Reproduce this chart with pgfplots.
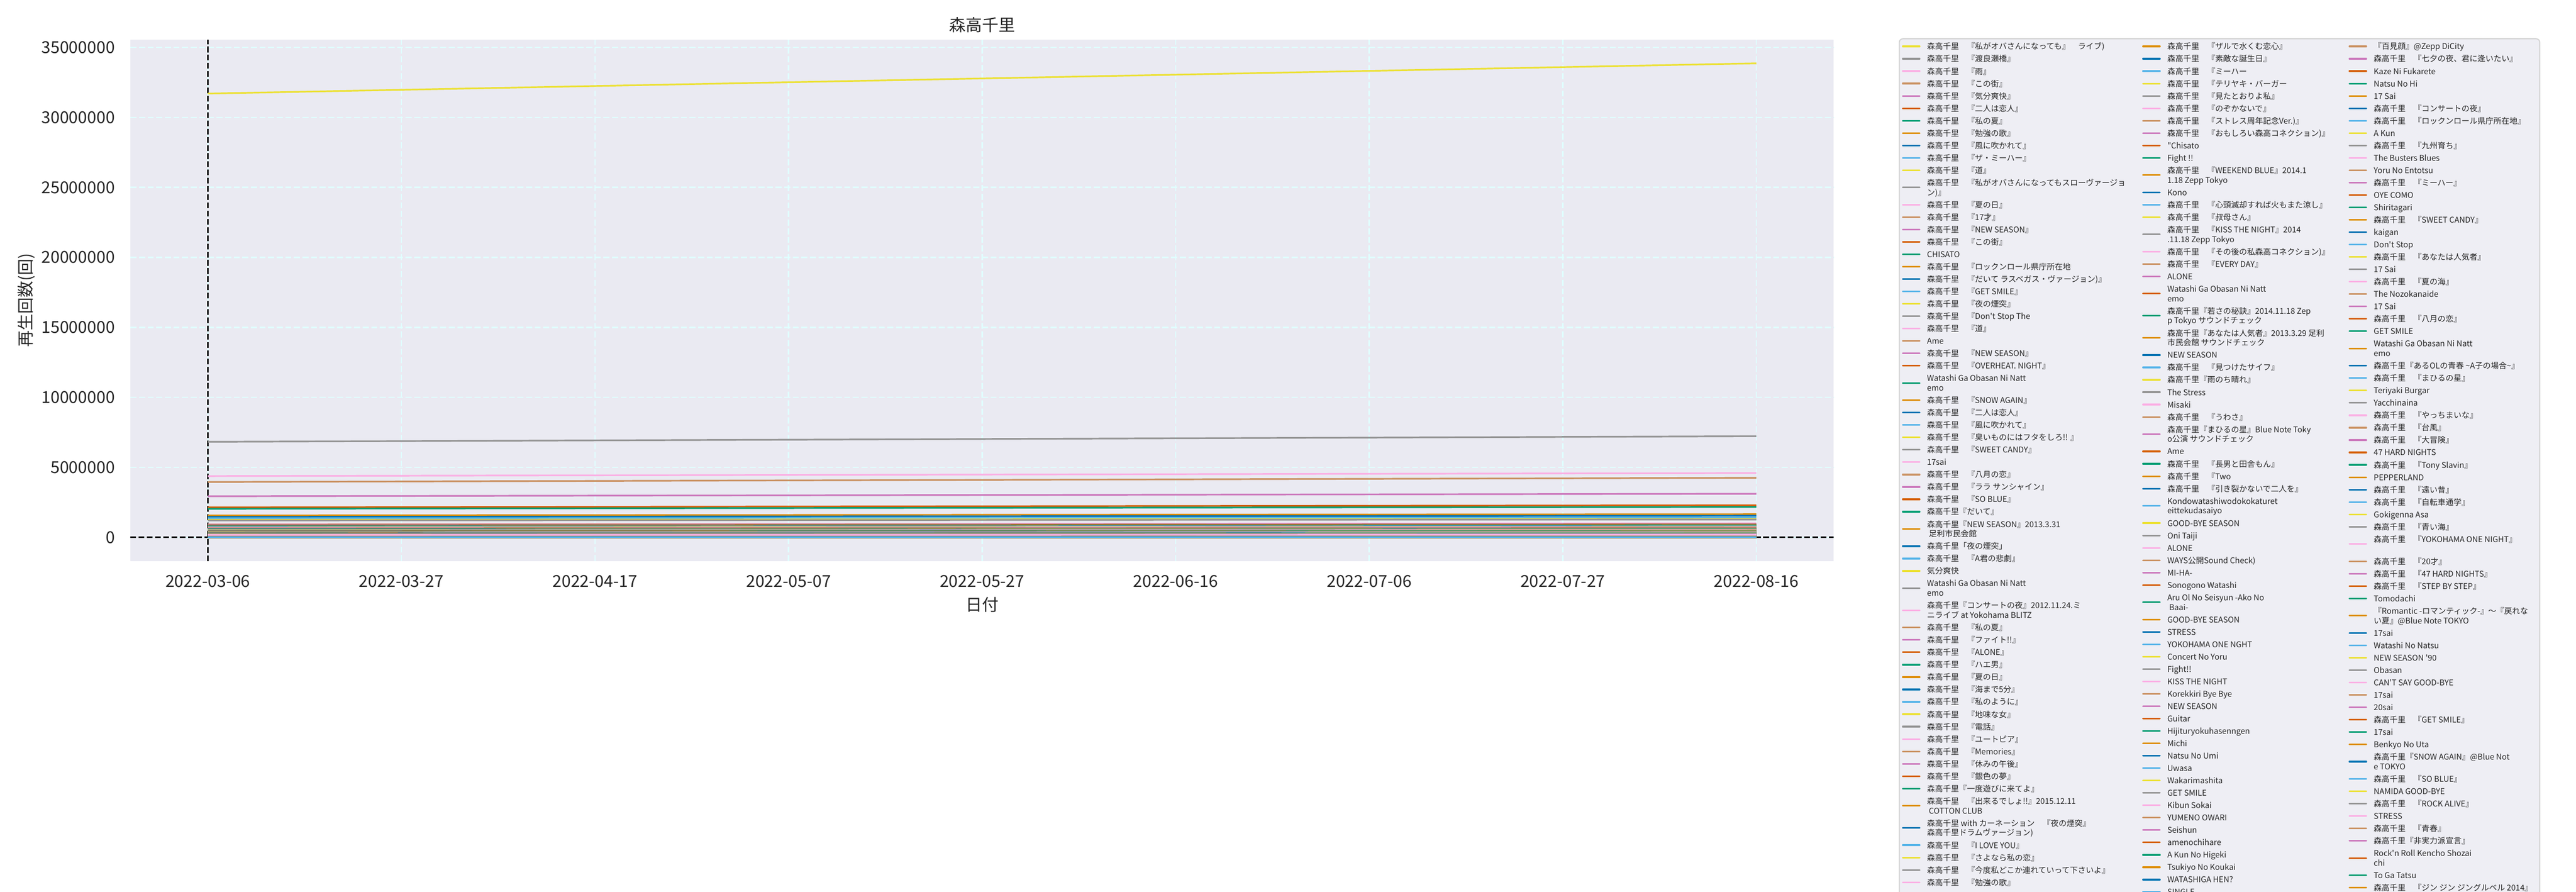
\documentclass[border=0pt]{standalone}
\usepackage{pgfplots}
\pgfplotsset{compat=1.18}
\usepackage{fontspec}
\setmainfont{Noto Sans CJK JP}[Ligatures=TeXOff]
\definecolor{cbBlue}{HTML}{0173B2}
\definecolor{cbOrange}{HTML}{DE8F05}
\definecolor{cbGreen}{HTML}{029E73}
\definecolor{cbVerm}{HTML}{D55E00}
\definecolor{cbPurple}{HTML}{CC78BC}
\definecolor{cbTan}{HTML}{CA9161}
\definecolor{cbPink}{HTML}{FBAFE4}
\definecolor{cbGray}{HTML}{949494}
\definecolor{cbYellow}{HTML}{ECE133}
\definecolor{cbLight}{HTML}{56B4E9}
\definecolor{axbg}{HTML}{EAEAF2}
\definecolor{gridc}{HTML}{E0FFFF}
\definecolor{txt}{HTML}{262626}
\definecolor{legbg}{HTML}{EEEEF4}
\definecolor{legedge}{HTML}{D3D3D3}
\newcommand\two[2]{\vtop{\hbox{#1}\hbox{#2}}}
\pgfplotsset{
  common/.style={at={(75.84pt,192.24pt)}, anchor=south west, scale only axis,
    width=990.24pt, height=303.12pt, xmin=-8, xmax=168, ymin=-1693000, ymax=35553000},
  legcol/.style={common, hide axis,
    every axis plot/.append style={line width=0.96pt},
    legend cell align=left,
    legend image code/.code={\draw[##1,line width=0.96pt,line cap=round] (0.48pt,0pt) -- (10.32pt,0pt);},
    legend style={at={(#1,0.9964)}, anchor=north west, draw=none, fill=none,
      inner sep=0pt, outer sep=0pt, row sep=1.56pt, column sep=3.84pt,
      font=\fontsize{4.64pt}{5.64pt}\selectfont, text=txt,
      nodes={inner sep=0pt, text height=4.6pt, text depth=1.04pt}}},
}
\begin{document}
\begin{tikzpicture}
\useasboundingbox (0pt,0pt) rectangle (1497.6pt,518.4pt);
\filldraw[fill=legbg, draw=legedge, line width=0.64pt, rounded corners=2pt] (1104.2pt,495.84pt) rectangle (1476.48pt,-60pt);

% ---------- main axis: background, grid, reference lines ----------
\begin{axis}[common,
  axis background/.style={fill=axbg},
  axis line style={draw=none},
  major tick length=0pt,
  xtick={0,20,40,60,80,100,120,140,160},
  xticklabels={2022-03-06,2022-03-27,2022-04-17,2022-05-07,2022-05-27,2022-06-16,2022-07-06,2022-07-27,2022-08-16},
  ytick={0,5000000,10000000,15000000,20000000,25000000,30000000,35000000},
  scaled y ticks=false,
  yticklabel style={/pgf/number format/fixed, /pgf/number format/1000 sep={}, /pgf/number format/assume math mode=true, anchor=east, inner sep=0pt, xshift=-8.88pt},
  xticklabel style={anchor=north, inner sep=0pt, yshift=-7.92pt},
  tick label style={font=\fontsize{9.6pt}{11.5pt}\selectfont, text=txt},
  grid=major,
  major grid style={draw=gridc, line width=0.75pt, dash pattern=on 3.5pt off 1.5pt},
  every axis title shift=0pt,
  title={森高千里},
  title style={at={(0.5,1.0285)}, anchor=center, font=\fontsize{9.6pt}{11.5pt}\selectfont, text=txt},
  xlabel={日付},
  xlabel style={at={(axis description cs:0.5,-0.0831)}, anchor=center, font=\fontsize{9.6pt}{11.5pt}\selectfont, text=txt},
  ylabel={再生回数(回)},
  ylabel style={at={(axis description cs:-0.06108,0.5)}, anchor=center, font=\fontsize{9.6pt}{11.5pt}\selectfont, text=txt},
]
\addplot[black, line width=0.9pt, dash pattern=on 3.33pt off 1.44pt, forget plot] coordinates {(-8,0) (168,0)};
\addplot[black, line width=0.9pt, dash pattern=on 3.33pt off 1.44pt, forget plot] coordinates {(0,-1693000) (0,35553000)};
\end{axis}

% ---------- legend column 3 ----------
\begin{axis}[legcol=1.30223,
  cycle list={{cbTan},{cbPurple},{cbVerm},{cbGreen},{cbOrange},{cbBlue},{cbLight},{cbYellow},{cbGray},{cbPink}}]
\addplot coordinates {(0,16800) (160,17800)}; \addlegendentry{『百見顔』@Zepp DiCity}
\addplot coordinates {(0,16300) (160,17300)}; \addlegendentry{森高千里　『七夕の夜、君に逢いたい』}
\addplot coordinates {(0,15700) (160,16600)}; \addlegendentry{Kaze Ni Fukarete}
\addplot coordinates {(0,15200) (160,16100)}; \addlegendentry{Natsu No Hi}
\addplot coordinates {(0,14700) (160,15600)}; \addlegendentry{17 Sai}
\addplot coordinates {(0,14200) (160,15100)}; \addlegendentry{森高千里　『コンサートの夜』}
\addplot coordinates {(0,13800) (160,14600)}; \addlegendentry{森高千里　『ロックンロール県庁所在地』}
\addplot coordinates {(0,13300) (160,14100)}; \addlegendentry{A Kun}
\addplot coordinates {(0,12900) (160,13700)}; \addlegendentry{森高千里　『九州育ち』}
\addplot coordinates {(0,12500) (160,13300)}; \addlegendentry{The Busters Blues}
\addplot coordinates {(0,12100) (160,12800)}; \addlegendentry{Yoru No Entotsu}
\addplot coordinates {(0,11700) (160,12400)}; \addlegendentry{森高千里　『ミーハー』}
\addplot coordinates {(0,11300) (160,12000)}; \addlegendentry{OYE COMO}
\addplot coordinates {(0,10900) (160,11600)}; \addlegendentry{Shiritagari}
\addplot coordinates {(0,10600) (160,11200)}; \addlegendentry{森高千里　『SWEET CANDY』}
\addplot coordinates {(0,10200) (160,10800)}; \addlegendentry{kaigan}
\addplot coordinates {(0,9900) (160,10500)}; \addlegendentry{Don't Stop}
\addplot coordinates {(0,9500) (160,10100)}; \addlegendentry{森高千里　『あなたは人気者』}
\addplot coordinates {(0,9200) (160,9800)}; \addlegendentry{17 Sai}
\addplot coordinates {(0,8900) (160,9400)}; \addlegendentry{森高千里　『夏の海』}
\addplot coordinates {(0,8600) (160,9100)}; \addlegendentry{The Nozokanaide}
\addplot coordinates {(0,8300) (160,8800)}; \addlegendentry{17 Sai}
\addplot coordinates {(0,8100) (160,8600)}; \addlegendentry{森高千里　『八月の恋』}
\addplot coordinates {(0,7800) (160,8300)}; \addlegendentry{GET SMILE}
\addplot coordinates {(0,7500) (160,8000)}; \addlegendentry[text depth=6.68pt]{\two{Watashi Ga Obasan Ni Natt}{emo}}
\addplot coordinates {(0,7300) (160,7700)}; \addlegendentry{森高千里『あるOLの青春 \textasciitilde A子の場合\textasciitilde』}
\addplot coordinates {(0,7100) (160,7500)}; \addlegendentry{森高千里　『まひるの星』}
\addplot coordinates {(0,6800) (160,7200)}; \addlegendentry{Teriyaki Burgar}
\addplot coordinates {(0,6600) (160,7000)}; \addlegendentry{Yacchinaina}
\addplot coordinates {(0,6400) (160,6800)}; \addlegendentry{森高千里　『やっちまいな』}
\addplot coordinates {(0,6200) (160,6600)}; \addlegendentry{森高千里　『台風』}
\addplot coordinates {(0,6000) (160,6400)}; \addlegendentry{森高千里　『大冒険』}
\addplot coordinates {(0,5800) (160,6100)}; \addlegendentry{47 HARD NIGHTS}
\addplot coordinates {(0,5600) (160,5900)}; \addlegendentry{森高千里　『Tony Slavin』}
\addplot coordinates {(0,5400) (160,5700)}; \addlegendentry{PEPPERLAND}
\addplot coordinates {(0,5200) (160,5500)}; \addlegendentry{森高千里　『遠い昔』}
\addplot coordinates {(0,5000) (160,5300)}; \addlegendentry{森高千里　『自転車通学』}
\addplot coordinates {(0,4900) (160,5200)}; \addlegendentry{Gokigenna Asa}
\addplot coordinates {(0,4700) (160,5000)}; \addlegendentry{森高千里　『青い海』}
\addplot coordinates {(0,4600) (160,4900)}; \addlegendentry[text depth=6.68pt]{\two{森高千里　『YOKOHAMA ONE NIGHT』}{}}
\addplot coordinates {(0,4400) (160,4700)}; \addlegendentry{森高千里　『20才』}
\addplot coordinates {(0,4300) (160,4600)}; \addlegendentry{森高千里　『47 HARD NIGHTS』}
\addplot coordinates {(0,4100) (160,4300)}; \addlegendentry{森高千里　『STEP BY STEP』}
\addplot coordinates {(0,4000) (160,4200)}; \addlegendentry{Tomodachi}
\addplot coordinates {(0,3900) (160,4100)}; \addlegendentry[text depth=6.68pt]{\two{『Romantic -ロマンティック-』～『戻れな}{い夏』@Blue Note TOKYO}}
\addplot coordinates {(0,3700) (160,3900)}; \addlegendentry{17sai}
\addplot coordinates {(0,3600) (160,3800)}; \addlegendentry{Watashi No Natsu}
\addplot coordinates {(0,3500) (160,3700)}; \addlegendentry{NEW SEASON '90}
\addplot coordinates {(0,3400) (160,3600)}; \addlegendentry{Obasan}
\addplot coordinates {(0,3300) (160,3500)}; \addlegendentry{CAN'T SAY GOOD-BYE}
\addplot coordinates {(0,3200) (160,3400)}; \addlegendentry{17sai}
\addplot coordinates {(0,3100) (160,3300)}; \addlegendentry{20sai}
\addplot coordinates {(0,3000) (160,3200)}; \addlegendentry{森高千里　『GET SMILE』}
\addplot coordinates {(0,2900) (160,3100)}; \addlegendentry{17sai}
\addplot coordinates {(0,2800) (160,3000)}; \addlegendentry{Benkyo No Uta}
\addplot coordinates {(0,2700) (160,2900)}; \addlegendentry[text depth=6.68pt]{\two{森高千里『SNOW AGAIN』@Blue Not}{e TOKYO}}
\addplot coordinates {(0,2600) (160,2800)}; \addlegendentry{森高千里　『SO BLUE』}
\addplot coordinates {(0,2500) (160,2700)}; \addlegendentry{NAMIDA GOOD-BYE}
\addplot coordinates {(0,2400) (160,2500)}; \addlegendentry{森高千里　『ROCK ALIVE』}
\addplot coordinates {(0,2400) (160,2500)}; \addlegendentry{STRESS}
\addplot coordinates {(0,2300) (160,2400)}; \addlegendentry{森高千里　『青春』}
\addplot coordinates {(0,2200) (160,2300)}; \addlegendentry{森高千里『非実力派宣言』}
\addplot coordinates {(0,2100) (160,2200)}; \addlegendentry[text depth=6.68pt]{\two{Rock'n Roll Kencho Shozai}{chi}}
\addplot coordinates {(0,2000) (160,2100)}; \addlegendentry{To Ga Tatsu}
\addplot coordinates {(0,2000) (160,2100)}; \addlegendentry{森高千里　『ジン ジン ジングルベル 2014』}
\end{axis}

% ---------- legend column 2 ----------
\begin{axis}[legcol=1.18105,
  cycle list={{cbOrange},{cbBlue},{cbLight},{cbYellow},{cbGray},{cbPink},{cbTan},{cbPurple},{cbVerm},{cbGreen}}]
\addplot coordinates {(0,151900) (160,161000)}; \addlegendentry{森高千里　『ザルで水くむ恋心』}
\addplot coordinates {(0,146900) (160,155700)}; \addlegendentry{森高千里　『素敵な誕生日』}
\addplot coordinates {(0,142100) (160,150600)}; \addlegendentry{森高千里　『ミーハー}
\addplot coordinates {(0,137500) (160,145800)}; \addlegendentry{森高千里　『テリヤキ・バーガー}
\addplot coordinates {(0,133000) (160,141000)}; \addlegendentry{森高千里　『見たとおりよ私』}
\addplot coordinates {(0,128600) (160,136300)}; \addlegendentry{森高千里　『のぞかないで』}
\addplot coordinates {(0,124400) (160,131900)}; \addlegendentry{森高千里　『ストレス周年記念Ver.)』}
\addplot coordinates {(0,120300) (160,127500)}; \addlegendentry{森高千里　『おもしろい森高コネクション)』}
\addplot coordinates {(0,116300) (160,123300)}; \addlegendentry{"Chisato}
\addplot coordinates {(0,112500) (160,119300)}; \addlegendentry{Fight !!}
\addplot coordinates {(0,108800) (160,115300)}; \addlegendentry[text depth=6.68pt]{\two{森高千里　『WEEKEND BLUE』2014.1}{1.18 Zepp Tokyo}}
\addplot coordinates {(0,105300) (160,111600)}; \addlegendentry{Kono}
\addplot coordinates {(0,101800) (160,107900)}; \addlegendentry{森高千里　『心頭滅却すれば火もまた涼し』}
\addplot coordinates {(0,98500) (160,104400)}; \addlegendentry{森高千里　『叔母さん』}
\addplot coordinates {(0,95300) (160,101000)}; \addlegendentry[text depth=6.68pt]{\two{森高千里　『KISS THE NIGHT』2014}{.11.18 Zepp Tokyo}}
\addplot coordinates {(0,92100) (160,97600)}; \addlegendentry{森高千里　『その後の私森高コネクション)』}
\addplot coordinates {(0,89100) (160,94400)}; \addlegendentry{森高千里　『EVERY DAY』}
\addplot coordinates {(0,86200) (160,91400)}; \addlegendentry{ALONE}
\addplot coordinates {(0,83400) (160,88400)}; \addlegendentry[text depth=6.68pt]{\two{Watashi Ga Obasan Ni Natt}{emo}}
\addplot coordinates {(0,80600) (160,85400)}; \addlegendentry[text depth=6.68pt]{\two{森高千里『若さの秘訣』2014.11.18 Zep}{p Tokyo サウンドチェック}}
\addplot coordinates {(0,78000) (160,82700)}; \addlegendentry[text depth=6.68pt]{\two{森高千里『あなたは人気者』2013.3.29 足利}{市民会館 サウンドチェック}}
\addplot coordinates {(0,75400) (160,79900)}; \addlegendentry{NEW SEASON}
\addplot coordinates {(0,73000) (160,77400)}; \addlegendentry{森高千里　『見つけたサイフ』}
\addplot coordinates {(0,70600) (160,74800)}; \addlegendentry{森高千里『雨のち晴れ』}
\addplot coordinates {(0,68300) (160,72400)}; \addlegendentry{The Stress}
\addplot coordinates {(0,66000) (160,70000)}; \addlegendentry{Misaki}
\addplot coordinates {(0,63900) (160,67700)}; \addlegendentry{森高千里　『うわさ』}
\addplot coordinates {(0,61800) (160,65500)}; \addlegendentry[text depth=6.68pt]{\two{森高千里『まひるの星』Blue Note Toky}{o公演 サウンドチェック}}
\addplot coordinates {(0,59700) (160,63300)}; \addlegendentry{Ame}
\addplot coordinates {(0,57800) (160,61300)}; \addlegendentry{森高千里　『長男と田舎もん』}
\addplot coordinates {(0,55900) (160,59300)}; \addlegendentry{森高千里　『Two}
\addplot coordinates {(0,54100) (160,57300)}; \addlegendentry{森高千里　『引き裂かないで二人を』}
\addplot coordinates {(0,52300) (160,55400)}; \addlegendentry[text depth=6.68pt]{\two{Kondowatashiwodokokaturet}{eittekudasaiyo}}
\addplot coordinates {(0,50600) (160,53600)}; \addlegendentry{GOOD-BYE SEASON}
\addplot coordinates {(0,48900) (160,51800)}; \addlegendentry{Oni Taiji}
\addplot coordinates {(0,47300) (160,50100)}; \addlegendentry{ALONE}
\addplot coordinates {(0,45800) (160,48500)}; \addlegendentry{WAYS公開Sound Check)}
\addplot coordinates {(0,44300) (160,47000)}; \addlegendentry{MI-HA-}
\addplot coordinates {(0,42800) (160,45400)}; \addlegendentry{Sonogono Watashi}
\addplot coordinates {(0,41400) (160,43900)}; \addlegendentry[text depth=6.68pt]{\two{Aru Ol No Seisyun -Ako No}{\ Baai-}}
\addplot coordinates {(0,40100) (160,42500)}; \addlegendentry{GOOD-BYE SEASON}
\addplot coordinates {(0,38700) (160,41000)}; \addlegendentry{STRESS}
\addplot coordinates {(0,37500) (160,39800)}; \addlegendentry{YOKOHAMA ONE NGHT}
\addplot coordinates {(0,36200) (160,38400)}; \addlegendentry{Concert No Yoru}
\addplot coordinates {(0,35000) (160,37100)}; \addlegendentry{Fight!!}
\addplot coordinates {(0,33900) (160,35900)}; \addlegendentry{KISS THE NIGHT}
\addplot coordinates {(0,32800) (160,34800)}; \addlegendentry{Korekkiri Bye Bye}
\addplot coordinates {(0,31700) (160,33600)}; \addlegendentry{NEW SEASON}
\addplot coordinates {(0,30700) (160,32500)}; \addlegendentry{Guitar}
\addplot coordinates {(0,29700) (160,31500)}; \addlegendentry{Hijituryokuhasenngen}
\addplot coordinates {(0,28700) (160,30400)}; \addlegendentry{Michi}
\addplot coordinates {(0,27700) (160,29400)}; \addlegendentry{Natsu No Umi}
\addplot coordinates {(0,26800) (160,28400)}; \addlegendentry{Uwasa}
\addplot coordinates {(0,26000) (160,27600)}; \addlegendentry{Wakarimashita}
\addplot coordinates {(0,25100) (160,26600)}; \addlegendentry{GET SMILE}
\addplot coordinates {(0,24300) (160,25800)}; \addlegendentry{Kibun Sokai}
\addplot coordinates {(0,23500) (160,24900)}; \addlegendentry{YUMENO OWARI}
\addplot coordinates {(0,22700) (160,24100)}; \addlegendentry{Seishun}
\addplot coordinates {(0,22000) (160,23300)}; \addlegendentry{amenochihare}
\addplot coordinates {(0,21300) (160,22600)}; \addlegendentry{A Kun No Higeki}
\addplot coordinates {(0,20600) (160,21800)}; \addlegendentry{Tsukiyo No Koukai}
\addplot coordinates {(0,19900) (160,21100)}; \addlegendentry{WATASHIGA HEN?}
\addplot coordinates {(0,19200) (160,20400)}; \addlegendentry{SINGLE}
\end{axis}

% ---------- legend column 1 ----------
\begin{axis}[legcol=1.03999,
  cycle list={{cbYellow},{cbGray},{cbPink},{cbTan},{cbPurple},{cbVerm},{cbGreen},{cbOrange},{cbBlue},{cbLight}}]
\addplot coordinates {(0,31700000) (160,33860000)}; \addlegendentry{森高千里　『私がオバさんになっても』　ライブ)}
\addplot coordinates {(0,6830000) (160,7230000)}; \addlegendentry{森高千里　『渡良瀬橋』}
\addplot coordinates {(0,4380000) (160,4600000)}; \addlegendentry{森高千里　『雨』}
\addplot coordinates {(0,3960000) (160,4260000)}; \addlegendentry{森高千里　『この街』}
\addplot coordinates {(0,2940000) (160,3120000)}; \addlegendentry{森高千里　『気分爽快』}
\addplot coordinates {(0,2150000) (160,2300000)}; \addlegendentry{森高千里　『二人は恋人』}
\addplot coordinates {(0,2050000) (160,2180000)}; \addlegendentry{森高千里　『私の夏』}
\addplot coordinates {(0,1570000) (160,1660000)}; \addlegendentry{森高千里　『勉強の歌』}
\addplot coordinates {(0,1470000) (160,1550000)}; \addlegendentry{森高千里　『風に吹かれて』}
\addplot coordinates {(0,1370000) (160,1430000)}; \addlegendentry{森高千里　『ザ・ミーハー』}
\addplot coordinates {(0,1260000) (160,1320000)}; \addlegendentry{森高千里　『道』}
\addplot coordinates {(0,1210000) (160,1280000)}; \addlegendentry[text depth=6.68pt]{\two{森高千里　『私がオバさんになってもスローヴァージョ}{ン)』}}
\addplot coordinates {(0,950000) (160,1007000)}; \addlegendentry{森高千里　『夏の日』}
\addplot coordinates {(0,918900) (160,974000)}; \addlegendentry{森高千里　『17才』}
\addplot coordinates {(0,888800) (160,942100)}; \addlegendentry{森高千里　『NEW SEASON』}
\addplot coordinates {(0,859600) (160,911200)}; \addlegendentry{森高千里　『この街』}
\addplot coordinates {(0,831500) (160,881400)}; \addlegendentry{CHISATO}
\addplot coordinates {(0,804200) (160,852500)}; \addlegendentry{森高千里　『ロックンロール県庁所在地}
\addplot coordinates {(0,777900) (160,824600)}; \addlegendentry{森高千里　『だいて ラスベガス・ヴァージョン)』}
\addplot coordinates {(0,752400) (160,797500)}; \addlegendentry{森高千里　『GET SMILE』}
\addplot coordinates {(0,727700) (160,771400)}; \addlegendentry{森高千里　『夜の煙突』}
\addplot coordinates {(0,703900) (160,746100)}; \addlegendentry{森高千里　『Don't Stop The}
\addplot coordinates {(0,680800) (160,721600)}; \addlegendentry{森高千里　『道』}
\addplot coordinates {(0,658500) (160,698000)}; \addlegendentry{Ame}
\addplot coordinates {(0,636900) (160,675100)}; \addlegendentry{森高千里　『NEW SEASON』}
\addplot coordinates {(0,616000) (160,653000)}; \addlegendentry{森高千里　『OVERHEAT. NIGHT』}
\addplot coordinates {(0,595800) (160,631500)}; \addlegendentry[text depth=6.68pt]{\two{Watashi Ga Obasan Ni Natt}{emo}}
\addplot coordinates {(0,576300) (160,610900)}; \addlegendentry{森高千里　『SNOW AGAIN』}
\addplot coordinates {(0,557400) (160,590800)}; \addlegendentry{森高千里　『二人は恋人』}
\addplot coordinates {(0,539100) (160,571400)}; \addlegendentry{森高千里　『風に吹かれて』}
\addplot coordinates {(0,521500) (160,552800)}; \addlegendentry{森高千里　『臭いものにはフタをしろ!! 』}
\addplot coordinates {(0,504400) (160,534700)}; \addlegendentry{森高千里　『SWEET CANDY』}
\addplot coordinates {(0,487800) (160,517100)}; \addlegendentry{17sai}
\addplot coordinates {(0,471800) (160,500100)}; \addlegendentry{森高千里　『八月の恋』}
\addplot coordinates {(0,456400) (160,483800)}; \addlegendentry{森高千里　『ララ サンシャイン』}
\addplot coordinates {(0,441400) (160,467900)}; \addlegendentry{森高千里　『SO BLUE』}
\addplot coordinates {(0,426900) (160,452500)}; \addlegendentry{森高千里『だいて』}
\addplot coordinates {(0,412900) (160,437700)}; \addlegendentry[text depth=6.68pt]{\two{森高千里『NEW SEASON』2013.3.31}{\ 足利市民会館}}
\addplot coordinates {(0,399400) (160,423400)}; \addlegendentry{森高千里「夜の煙突」}
\addplot coordinates {(0,386300) (160,409500)}; \addlegendentry{森高千里　『A君の悲劇』}
\addplot coordinates {(0,373600) (160,396000)}; \addlegendentry{気分爽快}
\addplot coordinates {(0,361400) (160,383100)}; \addlegendentry[text depth=6.68pt]{\two{Watashi Ga Obasan Ni Natt}{emo}}
\addplot coordinates {(0,349500) (160,370500)}; \addlegendentry[text depth=6.68pt]{\two{森高千里『コンサートの夜』2012.11.24.ミ}{ニライブ at Yokohama BLITZ}}
\addplot coordinates {(0,338000) (160,358300)}; \addlegendentry{森高千里　『私の夏』}
\addplot coordinates {(0,327000) (160,346600)}; \addlegendentry{森高千里　『ファイト!!』}
\addplot coordinates {(0,316200) (160,335200)}; \addlegendentry{森高千里　『ALONE』}
\addplot coordinates {(0,305900) (160,324300)}; \addlegendentry{森高千里　『ハエ男』}
\addplot coordinates {(0,295900) (160,313700)}; \addlegendentry{森高千里　『夏の日』}
\addplot coordinates {(0,286200) (160,303400)}; \addlegendentry{森高千里　『海まで5分』}
\addplot coordinates {(0,276800) (160,293400)}; \addlegendentry{森高千里　『私のように』}
\addplot coordinates {(0,267700) (160,283800)}; \addlegendentry{森高千里　『地味な女』}
\addplot coordinates {(0,258900) (160,274400)}; \addlegendentry{森高千里　『電話』}
\addplot coordinates {(0,250400) (160,265400)}; \addlegendentry{森高千里　『ユートピア』}
\addplot coordinates {(0,242200) (160,256700)}; \addlegendentry{森高千里　『Memories』}
\addplot coordinates {(0,234300) (160,248400)}; \addlegendentry{森高千里　『休みの午後』}
\addplot coordinates {(0,226600) (160,240200)}; \addlegendentry{森高千里　『銀色の夢』}
\addplot coordinates {(0,219200) (160,232400)}; \addlegendentry{森高千里『一度遊びに来てよ』}
\addplot coordinates {(0,212000) (160,224700)}; \addlegendentry[text depth=6.68pt]{\two{森高千里　『出来るでしょ!!』2015.12.11}{\ COTTON CLUB}}
\addplot coordinates {(0,205100) (160,217400)}; \addlegendentry[text depth=6.68pt]{\two{森高千里 with カーネーション　『夜の煙突』}{森高千里ドラムヴァージョン)}}
\addplot coordinates {(0,198300) (160,210200)}; \addlegendentry{森高千里　『I LOVE YOU』}
\addplot coordinates {(0,191800) (160,203300)}; \addlegendentry{森高千里　『さよなら私の恋』}
\addplot coordinates {(0,185500) (160,196600)}; \addlegendentry{森高千里　『今度私どこか連れていって下さいよ』}
\addplot coordinates {(0,179500) (160,190300)}; \addlegendentry{森高千里　『勉強の歌』}
\end{axis}
\end{tikzpicture}
\end{document}
